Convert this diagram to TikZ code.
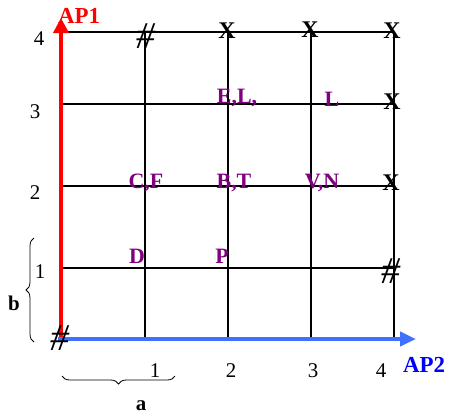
\documentclass[tikz,border=0pt]{standalone}
\usepackage{fontspec}
\setmainfont{Liberation Serif}
\usetikzlibrary{arrows.meta,decorations.pathreplacing}
\definecolor{labpurple}{RGB}{128,0,128}
\definecolor{apblue}{RGB}{64,112,255}
\begin{document}
\begin{tikzpicture}[
  x=1bp,y=-1bp,
  >=Triangle,
  grid/.style={draw=black,line width=1.6bp},
  edge/.style={draw=black,line width=2.2bp},
  axisone/.style={draw=red,line width=4bp,-{Triangle[length=15bp,width=15bp]}},
  axistwo/.style={draw=apblue,line width=4bp,-{Triangle[length=16bp,width=14bp]}},
  tick/.style={font=\fontsize{21}{21}\selectfont,inner sep=0pt,anchor=base},
  pair/.style={font=\fontsize{22}{22}\selectfont\bfseries,text=labpurple,inner sep=0pt,anchor=base},
  cross/.style={font=\fontsize{24}{24}\selectfont\bfseries,inner sep=0pt,anchor=base},
  hash/.style={font=\fontsize{38}{38}\selectfont\itshape,inner sep=0pt,anchor=base},
  bracestyle/.style={draw=black,line width=0.8bp,decorate,decoration={brace,amplitude=8bp}}
]
\useasboundingbox (0,0) rectangle (451,413);

% grid
\foreach \gx in {145,228,311}
  \draw[grid] (\gx,32) -- (\gx,339);
\draw[edge] (394,32) -- (394,339);
\foreach \gy in {268,186,104,32}
  \draw[grid] (61,\gy) -- (394,\gy);

% axes
\coordinate (O) at (61,339);
\coordinate (Ytop) at (61,18);
\coordinate (Xstart) at (58,339);
\coordinate (Xend) at (416,339);
\draw[axisone] (O) -- (Ytop);
\draw[axistwo] (Xstart) -- (Xend);
\node[tick,font=\fontsize{23}{23}\selectfont\bfseries,text=red] (ap1) at (79,23) {AP1};
\node[tick,font=\fontsize{23}{23}\selectfont\bfseries,text=blue] (ap2) at (424,372) {AP2};

% tick labels
\node[tick] (y4) at (39,45) {4};
\node[tick] (y3) at (35,118) {3};
\node[tick] (y2) at (35,199) {2};
\node[tick] (y1) at (40,278) {1};
\node[tick] (x1) at (155,377) {1};
\node[tick] (x2) at (231,377) {2};
\node[tick] (x3) at (313,377) {3};
\node[tick] (x4) at (381,377) {4};

% braces
\coordinate (bl) at (34,342);
\coordinate (tl) at (34,238);
\coordinate (rb) at (175,376);
\coordinate (lb) at (62,376);
\draw[bracestyle] (bl) -- (tl);
\draw[bracestyle] (rb) -- (lb);
\node[tick,font=\fontsize{21}{21}\selectfont\bfseries] (b) at (14,310) {b};
\node[tick,font=\fontsize{21}{21}\selectfont\bfseries] (a) at (141,410) {a};

% marks
\node[hash] (h1) at (146,48) {\#};
\node[hash] (h2) at (60,350) {\#};
\node[hash] (h3) at (391,283) {\#};
\node[cross] (c1) at (227,38) {X};
\node[cross] (c2) at (310,37) {X};
\node[cross] (c3) at (392,38) {X};
\node[cross] (c4) at (392,109) {X};
\node[cross] (c5) at (391,190) {X};

% labels
\node[pair] (cf) at (146,188) {C,F};
\node[pair] (bt) at (234,188) {B,T};
\node[pair] (vn) at (322,188) {V,N};
\node[pair] (el) at (237,103) {E,L,};
\node[pair] (l) at (332,106) {L};
\node[pair] (d) at (137,263) {D};
\node[pair] (p) at (222,263) {P};
\end{tikzpicture}
\end{document}
